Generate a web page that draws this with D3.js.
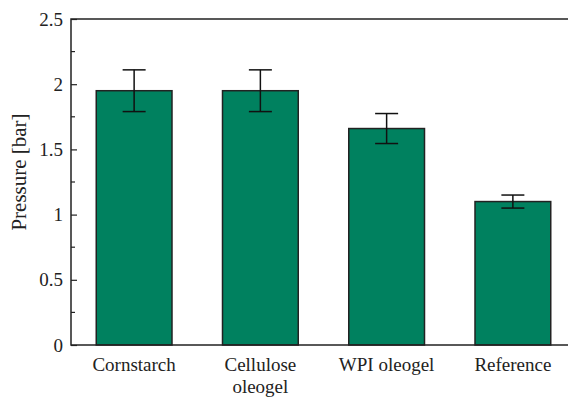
<!DOCTYPE html>
<html lang="en">
  <head>
    <meta charset="UTF-8" />
    <title>Pressure bar chart</title>
    <script src="https://d3js.org/d3.v7.min.js"></script>
    <style>
      body {
        margin: 0;
        background: #fff;
      }
      text {
        font-family: "Liberation Serif", serif;
        fill: #222;
      }
    </style>
  </head>
  <body>
    <svg id="chart" width="568" height="399"></svg>
    <script>
      // data
      const categories = ["Cornstarch", "Cellulose\noleogel", "WPI oleogel", "Reference"];
      const pressure = [1.95, 1.95, 1.66, 1.1];
      const errors = [0.16, 0.16, 0.115, 0.05];
      const yTicks = [0, 0.5, 1, 1.5, 2, 2.5];
      const yMinorTicks = [0.25, 0.75, 1.25, 1.75, 2.25];

      const svg = d3.select("#chart");
      const margin = { top: 19, left: 71, bottom: 345 };
      const plotRight = 576; // the right edge runs past the window

      const x = d3
        .scaleBand()
        .domain(categories)
        .range([margin.left, plotRight])
        .paddingInner(0.4)
        .paddingOuter(0.2);

      const y = d3.scaleLinear().domain([0, 2.5]).range([margin.bottom, margin.top]);

      const data = categories.map((c, i) => ({ c, v: pressure[i], e: errors[i] }));

      // bars
      svg
        .selectAll("rect.bar")
        .data(data)
        .enter()
        .append("rect")
        .attr("class", "bar")
        .attr("x", (d) => x(d.c))
        .attr("y", (d) => y(d.v))
        .attr("width", x.bandwidth())
        .attr("height", (d) => y(0) - y(d.v))
        .attr("fill", "#00815f")
        .attr("stroke", "#222")
        .attr("stroke-width", 1.5);

      // error bars
      const err = svg
        .selectAll("g.err")
        .data(data)
        .enter()
        .append("g")
        .attr("class", "err")
        .attr("stroke", "#111")
        .attr("stroke-width", 1.5);
      const cx = (d) => x(d.c) + x.bandwidth() / 2;
      err
        .append("line")
        .attr("x1", cx)
        .attr("x2", cx)
        .attr("y1", (d) => y(d.v + d.e))
        .attr("y2", (d) => y(d.v - d.e));
      err
        .append("line")
        .attr("x1", (d) => cx(d) - 11.5)
        .attr("x2", (d) => cx(d) + 11.5)
        .attr("y1", (d) => y(d.v + d.e))
        .attr("y2", (d) => y(d.v + d.e));
      err
        .append("line")
        .attr("x1", (d) => cx(d) - 11.5)
        .attr("x2", (d) => cx(d) + 11.5)
        .attr("y1", (d) => y(d.v - d.e))
        .attr("y2", (d) => y(d.v - d.e));

      // frame
      svg
        .append("rect")
        .attr("x", margin.left)
        .attr("y", margin.top)
        .attr("width", plotRight - margin.left)
        .attr("height", margin.bottom - margin.top)
        .attr("fill", "none")
        .attr("stroke", "#222")
        .attr("stroke-width", 1.5);

      // y axis, ticks point inward
      const yAxis = svg
        .append("g")
        .attr("transform", `translate(${margin.left},0)`)
        .call(
          d3
            .axisRight(y)
            .tickValues(yTicks)
            .tickSize(6)
            .tickFormat(d3.format("~g"))
        );
      yAxis.select(".domain").remove();
      yAxis.selectAll(".tick line").attr("stroke", "#222").attr("stroke-width", 1.2);
      yAxis
        .selectAll(".tick text")
        .attr("x", -8)
        .attr("text-anchor", "end")
        .style("font-size", "19px")
        .style("font-family", "Liberation Serif, serif");

      svg
        .append("g")
        .selectAll("line")
        .data(yMinorTicks)
        .enter()
        .append("line")
        .attr("x1", margin.left)
        .attr("x2", margin.left + 4)
        .attr("y1", (d) => y(d))
        .attr("y2", (d) => y(d))
        .attr("stroke", "#222")
        .attr("stroke-width", 1.2);

      // category labels
      const xl = svg
        .selectAll("text.cat")
        .data(categories)
        .enter()
        .append("text")
        .attr("class", "cat")
        .attr("text-anchor", "middle")
        .style("font-size", "19px");
      xl.selectAll("tspan")
        .data((d) => d.split("\n").map((t) => ({ t, c: d })))
        .enter()
        .append("tspan")
        .attr("x", (d) => x(d.c) + x.bandwidth() / 2)
        .attr("y", (d, i) => 371 + i * 22)
        .text((d) => d.t);

      // y title
      svg
        .append("text")
        .attr("transform", "translate(26,172) rotate(-90)")
        .attr("text-anchor", "middle")
        .style("font-size", "21px")
        .text("Pressure [bar]");
    </script>
  </body>
</html>
